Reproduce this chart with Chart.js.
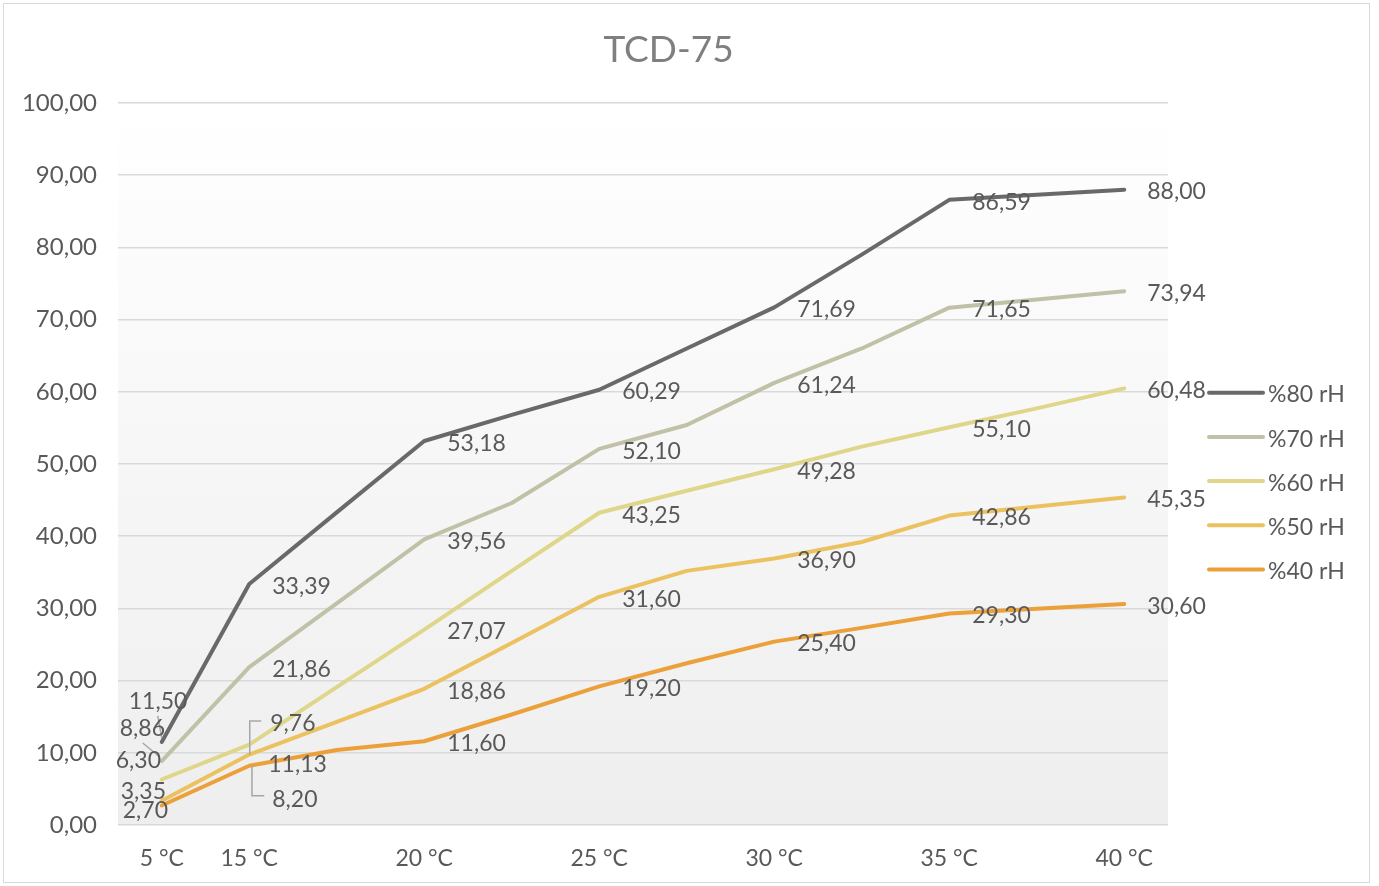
<!DOCTYPE html>
<html>
<head>
<meta charset="utf-8">
<script src="https://cdn.jsdelivr.net/npm/chart.js@4.4.1/dist/chart.umd.min.js"></script>
<style>
html,body{margin:0;padding:0;background:#ffffff;overflow:hidden}
#wrap{width:1379px;height:886px;position:relative}
</style>
</head>
<body>
<div id="wrap"><canvas id="c" width="1379" height="886"></canvas></div>
<script>
// ---------- data ----------
const chartTitle = 'TCD-75';
const categories = ['5 °C', '15 °C', '', '20 °C', '', '25 °C', '', '30 °C', '', '35 °C', '', '40 °C'];
const seriesNames = ['%80 rH', '%70 rH', '%60 rH', '%50 rH', '%40 rH'];
const rh80 = [11.50, 33.39, 43.30, 53.18, 56.80, 60.29, 66.00, 71.69, 79.00, 86.59, 87.30, 88.00];
const rh70 = [8.86, 21.86, 30.70, 39.56, 44.60, 52.10, 55.40, 61.24, 66.00, 71.65, 72.80, 73.94];
const rh60 = [6.30, 11.13, 19.10, 27.07, 35.20, 43.25, 46.30, 49.28, 52.40, 55.10, 57.70, 60.48];
const rh50 = [3.35, 9.76, 14.30, 18.86, 25.20, 31.60, 35.20, 36.90, 39.20, 42.86, 44.10, 45.35];
const rh40 = [2.70, 8.20, 10.40, 11.60, 15.30, 19.20, 22.40, 25.40, 27.30, 29.30, 29.95, 30.60];
const yMin = 0, yMax = 100, yStep = 10;

// ---------- styles ----------
const seriesColors = ['#696969', '#c1c1a7', '#dfd68a', '#ecc160', '#eba03a'];
const FONT = 'Lato, "Open Sans", sans-serif';
const textColor = '#595959';
const fmt = v => Number(v).toFixed(2).replace('.', ',');
const LABEL_SIZE = 23;
const LABEL_SHIFT = 0.36 * LABEL_SIZE + 1.5;

// label placement tweaks for crowded points (offsets from the point, px)
const labelAdjust = {
  '0-0': {dx: -33, dy: -43, leader: [[-4, -26], [0, -4]]},
  '1-0': {dx: -42, dy: -35, leader: [[-19, -18], [-2, -4]]},
  '2-0': {dx: -46, dy: -21.5},
  '3-0': {dx: -41, dy: -12},
  '4-0': {dx: -39, dy: 3},
  '2-1': {dx: 19, dy: 17.5},
  '3-1': {dx: 21, dy: -33, leader: [[12, -33.5], [0.5, -33.5], [0.5, 0]]},
  '4-1': {dx: 23, dy: 31, leader: [[2.7, 0], [2.7, 30], [15, 30]]}
};

const seriesData = [rh80, rh70, rh60, rh50, rh40];
const datasets = seriesNames.map((name, i) => ({
  label: name,
  data: seriesData[i],
  borderColor: seriesColors[i],
  backgroundColor: seriesColors[i],
  borderWidth: 4,
  pointRadius: 0,
  pointHoverRadius: 0,
  tension: 0,
  borderJoinStyle: 'round',
  borderCapStyle: 'round',
  fill: false
}));

const frame = {
  id: 'frame',
  beforeDraw(chart) {
    const {ctx, chartArea: a, width, height} = chart;
    ctx.save();
    ctx.fillStyle = '#ffffff';
    ctx.fillRect(0, 0, width, height);
    const g = ctx.createLinearGradient(0, a.top, 0, a.bottom);
    g.addColorStop(0, '#ffffff');
    g.addColorStop(0.12, '#fdfdfd');
    g.addColorStop(1, '#eeeeee');
    ctx.fillStyle = g;
    ctx.fillRect(a.left, a.top, a.right - a.left, a.bottom - a.top);
    ctx.strokeStyle = '#d9d9d9';
    ctx.lineWidth = 1;
    ctx.strokeRect(3.5, 3.5, 1366, 879);
    ctx.restore();
  },
  afterDraw(chart) {
    const {ctx} = chart;
    ctx.save();
    // title
    ctx.font = '37px ' + FONT;
    ctx.fillStyle = '#7f7f7f';
    ctx.textAlign = 'center';
    ctx.textBaseline = 'alphabetic';
    ctx.fillText(chartTitle, 668.5, 62);
    // legend
    const lx0 = 1209, lx1 = 1263, ly0 = 392.7, lstep = 44.2;
    ctx.font = LABEL_SIZE + 'px ' + FONT;
    ctx.textAlign = 'left';
    chart.data.datasets.forEach((ds, i) => {
      const y = ly0 + i * lstep;
      ctx.strokeStyle = ds.borderColor;
      ctx.lineWidth = 4;
      ctx.lineCap = 'round';
      ctx.beginPath();
      ctx.moveTo(lx0, y);
      ctx.lineTo(lx1, y);
      ctx.stroke();
      ctx.fillStyle = textColor;
      ctx.fillText(ds.label, 1268, y + LABEL_SHIFT);
    });
    ctx.restore();
  },
  afterDatasetsDraw(chart) {
    const {ctx} = chart;
    ctx.save();
    ctx.font = LABEL_SIZE + 'px ' + FONT;
    ctx.textAlign = 'left';
    ctx.textBaseline = 'alphabetic';
    chart.data.datasets.forEach((ds, di) => {
      const meta = chart.getDatasetMeta(di);
      meta.data.forEach((pt, j) => {
        if (!chart.data.labels[j]) return;
        const adj = labelAdjust[di + '-' + j] || {dx: 23, dy: 0};
        if (adj.leader) {
          ctx.strokeStyle = '#a6a6a6';
          ctx.lineWidth = 1.5;
          ctx.beginPath();
          adj.leader.forEach((p, k) => {
            if (k === 0) ctx.moveTo(pt.x + p[0], pt.y + p[1]);
            else ctx.lineTo(pt.x + p[0], pt.y + p[1]);
          });
          ctx.stroke();
        }
        ctx.fillStyle = textColor;
        ctx.fillText(fmt(ds.data[j]), pt.x + adj.dx, pt.y + adj.dy + LABEL_SHIFT);
      });
    });
    ctx.restore();
  }
};

new Chart(document.getElementById('c'), {
  type: 'line',
  data: {labels: categories, datasets},
  options: {
    responsive: false,
    animation: false,
    devicePixelRatio: 1,
    layout: {padding: {top: 103, right: 211, bottom: 0, left: 0}},
    plugins: {
      legend: {display: false},
      title: {display: false},
      tooltip: {enabled: false}
    },
    scales: {
      x: {
        type: 'category',
        offset: true,
        grid: {display: false, drawTicks: false},
        border: {display: false},
        ticks: {
          autoSkip: false,
          maxRotation: 0,
          padding: 20,
          color: textColor,
          font: {family: FONT, size: 23}
        },
        afterFit(scale) { scale.height = 61; }
      },
      y: {
        min: yMin,
        max: yMax,
        grid: {color: '#d9d9d9', lineWidth: 1.5, drawTicks: false},
        border: {display: false},
        ticks: {
          stepSize: yStep,
          padding: 21,
          color: textColor,
          font: {family: FONT, size: 24},
          callback: v => fmt(v)
        },
        afterFit(scale) { scale.width = 118; }
      }
    }
  },
  plugins: [frame]
});
</script>
</body>
</html>
